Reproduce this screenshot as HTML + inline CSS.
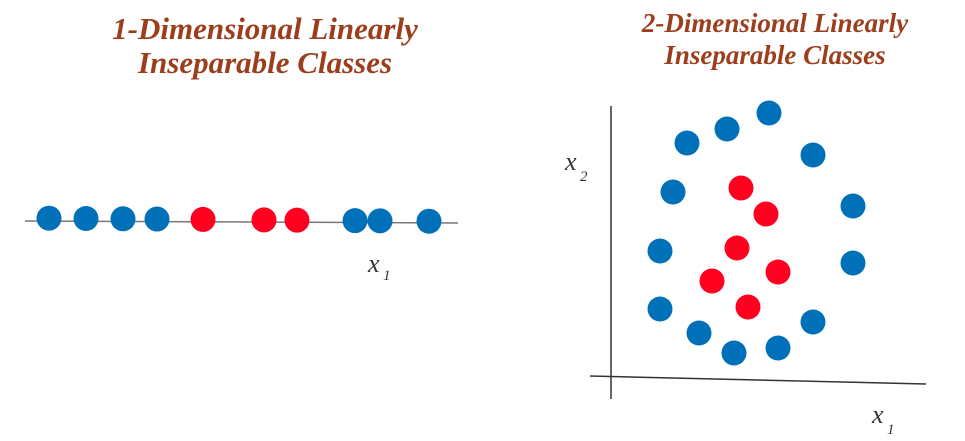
<!DOCTYPE html>
<html><head><meta charset="utf-8"><style>
html,body{margin:0;padding:0;background:#fff;width:965px;height:441px;overflow:hidden}
svg{display:block}
.t{font-family:"Liberation Serif",serif;font-style:italic;font-weight:bold;font-size:27px;fill:#9c3d1c}
.tl{font-size:31px}
.ax{font-family:"Liberation Serif",serif;font-style:italic;font-size:26px;fill:#333}
.sub{font-family:"Liberation Serif",serif;font-style:italic;font-size:15px;fill:#333}
</style></head><body>
<svg id="c" width="965" height="441">
<text class="t tl" x="265" y="39" text-anchor="middle">1-Dimensional Linearly</text>
<text class="t tl" x="265" y="73" text-anchor="middle">Inseparable Classes</text>
<text class="t" x="775" y="32" text-anchor="middle">2-Dimensional Linearly</text>
<text class="t" x="775" y="64" text-anchor="middle">Inseparable Classes</text>
<line x1="25" y1="221" x2="458" y2="223" stroke="#777" stroke-width="1.5"/>
<g><text class="ax" x="368" y="272">x</text><text class="sub" x="383" y="280">1</text></g>
<line x1="611" y1="106" x2="611" y2="399" stroke="#333" stroke-width="1.5"/>
<line x1="590" y1="376" x2="926" y2="384" stroke="#333" stroke-width="1.5"/>
<g><text class="ax" x="565" y="170">x</text><text class="sub" x="580" y="181">2</text></g>
<g><text class="ax" x="872" y="423">x</text><text class="sub" x="887" y="434">1</text></g>
<g id="pts"></g>
</svg>
<script>
const oneDX = [49, 86, 123, 157, 203, 264, 297, 355, 380, 429];
const oneDClass = ["b","b","b","b","r","r","r","b","b","b"];
const twoDX = [76, 116, 158, 202, 62, 242, 49, 242, 49, 88, 123, 167, 202, 130, 155, 126, 167, 101, 137];
const twoDY = [233, 247, 263, 221, 184, 170, 125, 113, 67, 43, 23, 28, 54, 188, 162, 128, 104, 95, 69];
const twoDClass = ["b","b","b","b","b","b","b","b","b","b","b","b","b","r","r","r","r","r","r"];
const col = {b:"#0071b9", r:"#ff0020"};
const x1d = v => v, y1d = v => 218 + (v-25)*0.008;
const x2d = v => 611 + v, y2d = v => 376 - v;
const g = document.getElementById('pts');
const NS = "http://www.w3.org/2000/svg";
oneDX.forEach((v,i)=>{
  const c = document.createElementNS(NS,'circle');
  c.setAttribute('cx', x1d(v)); c.setAttribute('cy', y1d(v));
  c.setAttribute('r', 12.5); c.setAttribute('fill', col[oneDClass[i]]);
  
  
  g.appendChild(c);
});
twoDX.forEach((v,i)=>{
  const c = document.createElementNS(NS,'circle');
  c.setAttribute('cx', x2d(v)); c.setAttribute('cy', y2d(twoDY[i]));
  c.setAttribute('r', 12.5); c.setAttribute('fill', col[twoDClass[i]]);
  
  
  g.appendChild(c);
});
</script>
</body></html>
